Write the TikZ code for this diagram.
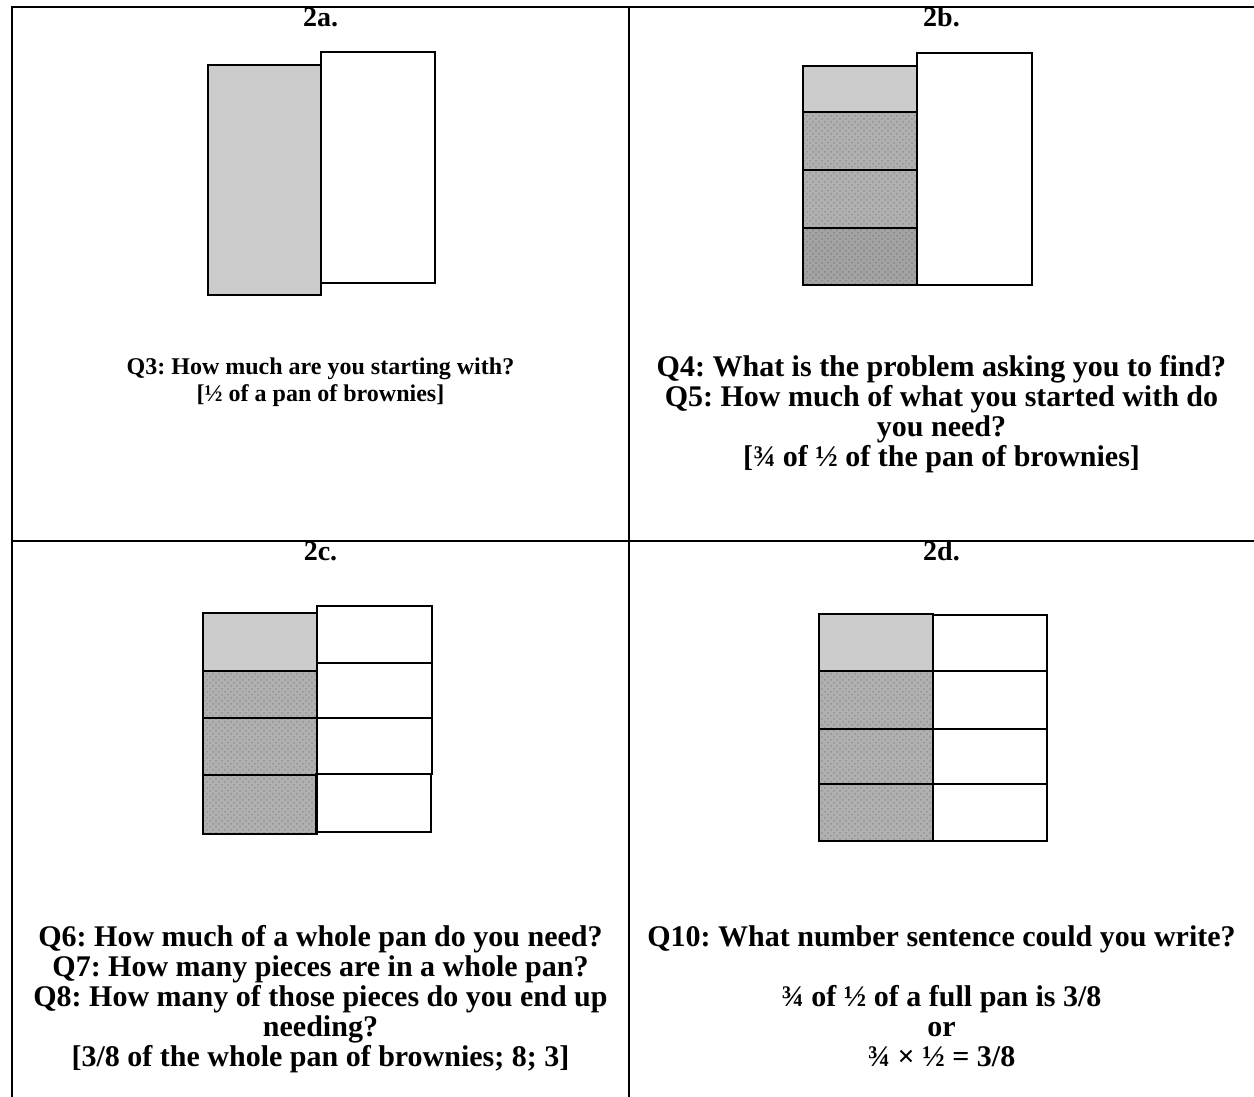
\documentclass[tikz,border=0pt]{standalone}
\usepackage{fontspec}
\setmainfont{Liberation Serif}
\usepackage{xcolor}
\usetikzlibrary{patterns}
\frenchspacing

\begin{document}
\begin{tikzpicture}[
		x=0.5pt,y=-0.5pt,
		font=\bfseries,
		rule/.style={line width=1pt},
		pan/.style={draw,line width=0.8pt},
		lite/.style={pan,fill=gray!40},
		dots/.style={pan,preaction={fill=gray!62},pattern=crosshatch dots,pattern color=gray!85},
		dark/.style={pan,preaction={fill=gray!72},pattern=crosshatch dots,pattern color=gray!95},
		head/.style={inner sep=0pt,font=\fontsize{14}{16}\selectfont\bfseries},
		txt/.style={inner sep=0pt,align=center,anchor=north,font=\fontsize{15}{15}\selectfont\bfseries},
		small/.style={txt,font=\fontsize{12}{13.5}\selectfont\bfseries}
		]

		\useasboundingbox (0,0) rectangle (1254,1097);

		% table rules
		\draw[rule] (1254,7) -- (12,7) -- (12,1097);
		\draw[rule] (629,7) -- (629,1097);
		\draw[rule] (12,541) -- (1254,541);

		% 2a
		\node[head] (h2a) at (320.5,17) {2a.};
		\draw[lite] (208,65) rectangle (321,295);
		\draw[pan] (321,52) rectangle (435,283);
		\node[small] (t2a) at (320.5,357) {Q3: How much are you starting with?\\{}[½ of a pan of brownies]};

		% 2b
		\node[head] (h2b) at (941.5,17) {2b.};
		\draw[lite] (803,66) rectangle (917,112);
		\draw[dots] (803,112) rectangle (917,170);
		\draw[dots] (803,170) rectangle (917,228);
		\draw[dark] (803,228) rectangle (917,285);
		\draw[pan] (917,53) rectangle (1032,285);
		\node[txt] (t2b) at (941.5,355) {Q4: What is the problem asking you to find?\\Q5: How much of what you started with do\\you need?\\{}[¾ of ½ of the pan of brownies]};

		% 2c
		\node[head] (h2c) at (320.5,551) {2c.};
		\draw[lite] (203,613) rectangle (317,671);
		\draw[dots] (203,671) rectangle (317,718);
		\draw[dots] (203,718) rectangle (317,775);
		\draw[dots] (203,775) rectangle (317,834);
		\draw[pan] (317,606) rectangle (432,663);
		\draw[pan] (317,663) rectangle (432,718);
		\draw[pan] (317,718) rectangle (432,774);
		\draw[pan] (316,774) rectangle (431,832);
		\node[txt] (t2c) at (320.5,925) {Q6: How much of a whole pan do you need?\\Q7: How many pieces are in a whole pan?\\Q8: How many of those pieces do you end up\\needing?\\{}[3/8 of the whole pan of brownies; 8; 3]};

		% 2d
		\node[head] (h2d) at (941.5,551) {2d.};
		\draw[lite] (819,614) rectangle (933,671);
		\draw[dots] (819,671) rectangle (933,729);
		\draw[dots] (819,729) rectangle (933,784);
		\draw[dots] (819,784) rectangle (933,841);
		\draw[pan] (933,615) rectangle (1047,671);
		\draw[pan] (933,671) rectangle (1047,729);
		\draw[pan] (933,729) rectangle (1047,784);
		\draw[pan] (933,784) rectangle (1047,841);
		\node[txt] (t2d) at (941.5,925) {Q10: What number sentence could you write?\\[15pt]¾ of ½ of a full pan is 3/8\\or\\¾ × ½ = 3/8};

	\end{tikzpicture}
\end{document}
